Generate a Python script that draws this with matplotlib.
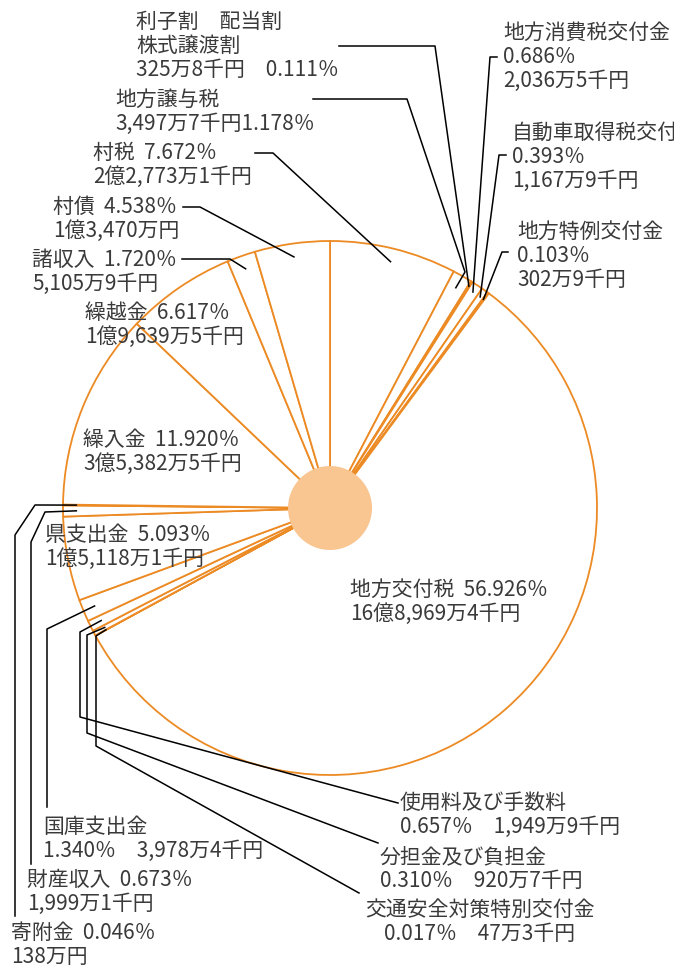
import numpy as np
import matplotlib
matplotlib.use("Agg")
import matplotlib.pyplot as plt

plt.rcParams['font.family'] = ['Noto Sans CJK JP', 'DejaVu Sans']

# revenue items, clockwise from 12 o'clock
items = ["村税", "地方譲与税", "利子割　配当割\n株式譲渡割", "地方消費税交付金",
         "自動車取得税交付金", "地方特例交付金", "地方交付税", "交通安全対策特別交付金",
         "分担金及び負担金", "使用料及び手数料", "国庫支出金", "県支出金",
         "財産収入", "寄附金", "繰入金", "繰越金", "諸収入", "村債"]
shares = [7.672, 1.178, 0.111, 0.686, 0.393, 0.103, 56.926, 0.017, 0.310,
          0.657, 1.340, 5.093, 0.673, 0.046, 11.920, 6.617, 1.720, 4.538]
amounts = ["2億2,773万1千円", "3,497万7千円", "325万8千円", "2,036万5千円",
           "1,167万9千円", "302万9千円", "16億8,969万4千円", "47万3千円",
           "920万7千円", "1,949万9千円", "3,978万4千円", "1億5,118万1千円",
           "1,999万1千円", "138万円", "3億5,382万5千円", "1億9,639万5千円",
           "5,105万9千円", "1億3,470万円"]

# layout (pixel coords, y down)
cx, cy, R = 330, 508, 267
ORANGE = '#EC8A24'
TXT = '#3A3A3A'

# label template, x, first line y, alignment
label_fmt = {
    0: ("{n}  {p}\n{a}", 93, 153, 'left'),
    1: ("{n}\n{a}{p}", 115, 100, 'left'),
    2: ("{n}\n{a}　{p}", 136, 22, 'left'),
    3: ("{n}\n{p}\n{a}", 503, 33, 'left'),
    4: ("{n}\n{p}\n{a}", 512, 133, 'left'),
    5: ("{n}\n{p}\n{a}", 517, 232, 'left'),
    6: ("{n}  {p}\n{a}", 350, 590, 'left'),
    7: ("{n}\n{p}　{a}", 480, 910, 'center'),
    8: ("{n}\n{p}　{a}", 380, 857, 'left'),
    9: ("{n}\n{p}　{a}", 400, 803, 'left'),
    10: ("{n}\n{p}　{a}", 43, 827, 'left'),
    11: ("{n}  {p}\n{a}", 45, 535, 'left'),
    12: ("{n}  {p}\n{a}", 27, 880, 'left'),
    13: ("{n}  {p}\n{a}", 11, 933, 'left'),
    14: ("{n}  {p}\n{a}", 83, 440, 'left'),
    15: ("{n}  {p}\n{a}", 85, 313, 'left'),
    16: ("{n}  {p}\n{a}", 32, 260, 'left'),
    17: ("{n}  {p}\n{a}", 53, 207, 'left'),
}

# leader elbows (label side first), end radius as fraction of R
leaders = {
    0: ([(255, 153), (273, 153)], 0.95),
    1: ([(313, 99), (407, 99), (465, 272)], 0.95),
    2: ([(339, 46), (435, 46)], 0.98),
    3: ([(497, 57), (490, 57)], 0.97),
    4: ([(506, 155), (499, 155)], 0.97),
    5: ([(508, 252), (502, 252)], 0.97),
    7: ([(359, 893), (96, 746), (96, 636)], 0.955),
    8: ([(378, 843), (87, 733), (87, 635)], 0.955),
    9: ([(398, 803), (80, 717), (80, 632)], 0.955),
    10: ([(47, 807), (47, 629)], 0.955),
    12: ([(31, 864), (31, 542), (45, 512)], 0.95),
    13: ([(15, 916), (15, 535), (35, 505)], 0.95),
    16: ([(182, 259), (230, 259)], 0.95),
    17: ([(183, 207), (200, 207)], 0.95),
}

fig = plt.figure(figsize=(6.74, 9.65), dpi=100)
ax = fig.add_axes([0, 0, 1, 1])

# y axis points down, so counterclock in data space shows clockwise on screen
wedges, _ = ax.pie(shares, startangle=-90, counterclock=True, center=(cx, cy),
                   radius=R, frame=True,
                   wedgeprops=dict(facecolor='white', edgecolor=ORANGE, linewidth=1.3))
ax.add_patch(plt.Circle((cx, cy), 42, facecolor='#F9C591', edgecolor='none', zorder=3))

ax.set_xlim(0, 674)
ax.set_ylim(965, 0)
ax.set_aspect('equal')
ax.axis('off')

cum = np.cumsum([0] + shares)
mids = -90 + (cum[:-1] + cum[1:]) / 2 * 3.6

for i, name in enumerate(items):
    fmt, x, y, ha = label_fmt[i]
    s = fmt.format(n=name, p=f"{shares[i]:.3f}％", a=amounts[i])
    for k, line in enumerate(s.split("\n")):
        ax.text(x, y + k * 24, line, ha=ha, va='center', fontsize=15, color=TXT, zorder=5)

for i, (pts, rf) in leaders.items():
    ang = np.deg2rad(mids[i])
    end = (cx + rf * R * np.cos(ang), cy + rf * R * np.sin(ang))
    xs = [p[0] for p in pts] + [end[0]]
    ys = [p[1] for p in pts] + [end[1]]
    ax.plot(xs, ys, color='black', linewidth=1.1, zorder=4)

fig.savefig("out.png", dpi=100)
